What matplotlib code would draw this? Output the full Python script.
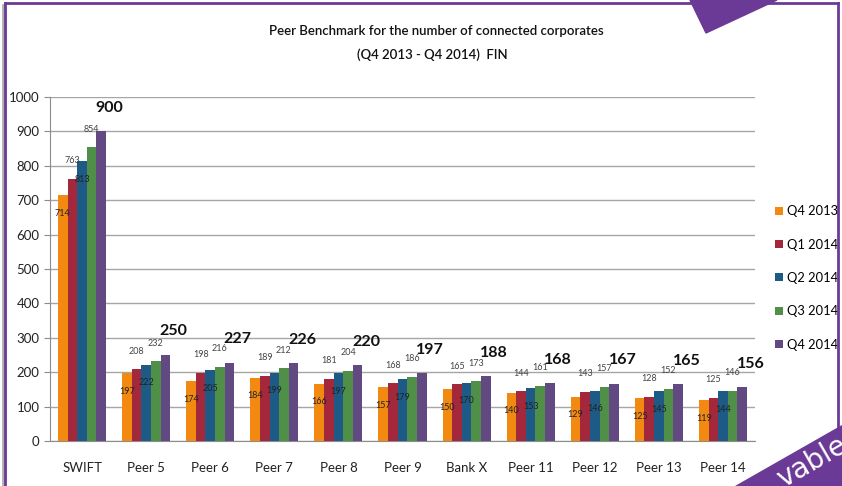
import numpy as np
import matplotlib
matplotlib.use('Agg')
import matplotlib.pyplot as plt
from matplotlib.patches import Polygon
from matplotlib.lines import Line2D

plt.rcParams['font.family'] = ['Lato', 'DejaVu Sans']

categories = ['SWIFT', 'Peer 5', 'Peer 6', 'Peer 7', 'Peer 8', 'Peer 9',
              'Bank X', 'Peer 11', 'Peer 12', 'Peer 13', 'Peer 14']
series = ['Q4 2013', 'Q1 2014', 'Q2 2014', 'Q3 2014', 'Q4 2014']
q4_2013 = [714, 197, 174, 184, 166, 157, 150, 140, 129, 125, 119]
q1_2014 = [763, 208, 198, 189, 181, 168, 165, 144, 143, 128, 125]
q2_2014 = [813, 222, 205, 199, 197, 179, 170, 153, 146, 145, 144]
q3_2014 = [854, 232, 216, 212, 204, 186, 173, 161, 157, 152, 146]
q4_2014 = [900, 250, 227, 226, 220, 197, 188, 168, 167, 165, 156]
yticks = list(range(0, 1001, 100))

colors = ['#F28A12', '#A3283B', '#1D5B86', '#4F8F47', '#634981']
data = [q4_2013, q1_2014, q2_2014, q3_2014, q4_2014]

W, H = 842, 486
fig = plt.figure(figsize=(W / 100, H / 100), dpi=100)
ax = fig.add_axes([50 / W, 1 - 441 / H, 705 / W, 344 / H])

x = np.arange(len(categories))
bw = 0.15
for i, (name, vals) in enumerate(zip(series, data)):
    pos = x + (i - 2) * bw
    ax.bar(pos, vals, bw, color=colors[i], label=name, zorder=3)
    for px, v in zip(pos, vals):
        if i == 4:
            ax.annotate(str(v), (px, v), xytext=(6, 17), textcoords='offset points',
                        ha='center', va='center', fontsize=11.5, fontweight='bold',
                        color='#111111', zorder=5)
        elif i in (0, 2):
            ax.annotate(str(v), (px, v), xytext=(0, -13), textcoords='offset points',
                        ha='center', va='center', fontsize=6.5, color='#222222', zorder=5)
        else:
            ax.annotate(str(v), (px, v), xytext=(0, 13), textcoords='offset points',
                        ha='center', va='center', fontsize=6.5, color='#444444', zorder=5)

ax.set_xlim(-0.5, len(categories) - 0.5)
ax.set_ylim(0, 1000)
ax.set_yticks(yticks)
ax.set_xticks(x)
ax.set_xticklabels(categories, fontsize=9.5, color='#222222')
ax.tick_params(axis='x', length=0, pad=15)
ax.tick_params(axis='y', labelsize=9.5, colors='#222222', length=4, color='#8C8C8C')
ax.grid(axis='y', color='#A6A6A6', linewidth=1.0, zorder=0)
for s in ['top', 'right']:
    ax.spines[s].set_visible(False)
for s in ['left', 'bottom']:
    ax.spines[s].set_color('#8C8C8C')

ax.legend(loc='center left', bbox_to_anchor=(1.012, 0.474), frameon=False,
          fontsize=9.3, handlelength=0.6, handleheight=0.6, handletextpad=0.3,
          labelspacing=1.65)

fig.text(436 / W, 1 - 31 / H, 'Peer Benchmark for the number of connected corporates',
         ha='center', va='center', fontsize=9.5, color='#111111', fontweight='semibold')
fig.text(432 / W, 1 - 55 / H, '(Q4 2013 - Q4 2014)  FIN',
         ha='center', va='center', fontsize=9.5, color='#111111', fontweight='semibold')

# slide frame
purple = '#6B3A96'
fig.add_artist(Line2D([5 / W, 838 / W], [1 - 3 / H, 1 - 3 / H], color=purple, lw=2))
fig.add_artist(Line2D([3 / W, 3 / W], [0, 1 - 5 / H], color='#B0B0B0', lw=2))
fig.add_artist(Line2D([5 / W, 5 / W], [0, 1 - 3 / H], color=purple, lw=2))
fig.add_artist(Line2D([838 / W, 838 / W], [0, 1 - 3 / H], color=purple, lw=2))
fig.add_artist(Polygon([[690 / W, 1], [777 / W, 1], [706 / W, 1 - 33 / H]],
                       closed=True, color=purple, transform=fig.transFigure))
shape = Polygon([[735 / W, 0], [1, 0], [1, 1 - 425 / H]], closed=True,
                color=purple, transform=fig.transFigure)
fig.add_artist(shape)
t = fig.text(812 / W, 1 - 462 / H, 'vable', ha='center', va='center', fontsize=20,
             color='white', rotation=30, family='DejaVu Sans')
t.set_clip_path(shape)

fig.savefig('out.png', dpi=100)
